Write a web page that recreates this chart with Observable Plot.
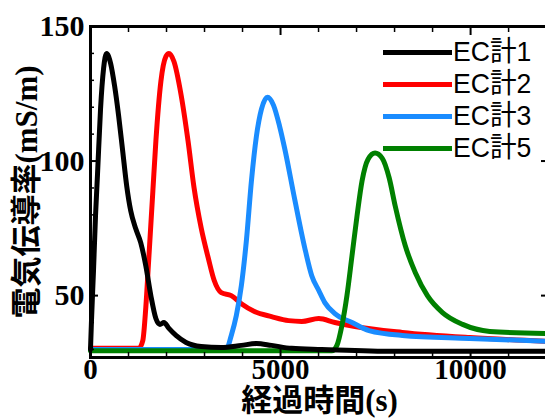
<!DOCTYPE html>
<html><head><meta charset="utf-8">
<script src="https://cdn.jsdelivr.net/npm/d3@7"></script>
<script src="https://cdn.jsdelivr.net/npm/@observablehq/plot@0.6"></script>
<style>
html,body{margin:0;padding:0;background:#fff;overflow:hidden;}
#wrap{position:relative;width:545px;height:419px;overflow:hidden;}
#wrap svg{max-width:none !important;display:block;}
#wrap svg, #wrap svg g, #wrap svg text{font-family:"Liberation Serif","Times New Roman","Noto Sans CJK JP",serif !important;}
#legend{position:absolute;left:383px;top:36px;font-family:"Liberation Sans",Arial,"Noto Sans CJK JP",sans-serif;font-size:28px;color:#000;}
.row{display:flex;align-items:center;height:32px;white-space:nowrap;}
.sw{width:69px;height:5px;flex:none;}
.lab{display:inline-block;margin-left:1px;line-height:32px;transform:scaleX(0.95);transform-origin:left center;}
</style></head><body>
<div id="wrap"><div id="legend"></div></div>
<script>
// Series names and colours
const seriesNames = ["EC計1", "EC計2", "EC計3", "EC計5"];
const seriesColors = ["#000000", "#ff0000", "#1a8cff", "#008000"];

// EC計1 (black)
const t1 = [0, 26, 79, 132, 185, 265, 344, 423, 529, 635, 741, 847, 953, 1058, 1191, 1323, 1455, 1588, 1720, 1826, 1932, 2064, 2249, 2514, 2911, 3440, 3969, 4366, 4763, 5292, 6086, 8000, 10000, 12050];
const v1 = [30, 40.7, 59.3, 79.6, 95.2, 119.6, 134.4, 140, 136.3, 127.8, 116.7, 103.7, 90.7, 81.5, 74.8, 69.6, 61.1, 50, 41.5, 39.3, 40, 37.8, 35.2, 32.6, 31.1, 30.7, 31.5, 32.2, 31.5, 30.4, 30, 29.3, 29.3, 29.3];
// EC計2 (red)
const t2 = [0, 1270, 1376, 1455, 1535, 1641, 1720, 1852, 1985, 2064, 2196, 2381, 2567, 2725, 2911, 3096, 3255, 3440, 3704, 3969, 4313, 4763, 5213, 5557, 6006, 6430, 6959, 8203, 9975, 12050];
const v2 = [30.4, 30.4, 33.3, 45.6, 64.1, 88.9, 107.4, 129.6, 138.9, 140, 137, 124.8, 107.4, 90, 75.2, 64.1, 55.6, 51.1, 50, 47, 44.1, 42.2, 40.7, 40.4, 41.5, 40, 38.5, 36.3, 34.4, 33];
// EC計3 (blue)
const t3 = [0, 3572, 3704, 3837, 3969, 4101, 4234, 4366, 4498, 4657, 4816, 4974, 5107, 5371, 5636, 5821, 6006, 6165, 6430, 6880, 7329, 8203, 9975, 12050];
const v3 = [30, 30, 35.2, 42.6, 53.7, 70.4, 92.6, 109.3, 119.3, 123.7, 120.7, 113, 104.8, 85.9, 67.8, 57.4, 51.9, 47.4, 43.3, 40, 37, 35.2, 34.1, 33];
// EC計5 (green)
const t5 = [0, 6350, 6483, 6615, 6747, 6880, 7012, 7144, 7303, 7488, 7673, 7859, 8017, 8282, 8547, 8864, 9261, 9790, 10505, 12050];
const v5 = [29.5, 29.5, 31.5, 38.9, 50, 64.8, 79.6, 92.6, 100.7, 103, 101.1, 93.7, 83.3, 68.5, 58.5, 50, 43.7, 39.3, 36.7, 35.9];

// Axis ticks and labels
const xTickLabels = [0, 5000, 10000];
const xMinorTicks = [1000, 2000, 3000, 4000, 6000, 7000, 8000, 9000, 11000, 12000];
const yTickLabels = [50, 100, 150];
const yMinorTicks = [30, 40, 60, 70, 80, 90, 110, 120, 130, 140];
const xTitle = "経過時間(s)";
const yTitle = "電気伝導率(mS/m)";

const toRows = (t, v) => t.map((d, i) => ({t: d, v: v[i]}));
const seriesData = [toRows(t1, v1), toRows(t2, v2), toRows(t3, v3), toRows(t5, v5)];
const drawOrder = [1, 2, 3, 0];

const serif = '"Liberation Serif","Times New Roman","Noto Sans CJK JP",serif';
const fmt = d => String(d);

const chart = Plot.plot({
  width: 545, height: 419,
  marginLeft: 90, marginRight: -3, marginTop: 26, marginBottom: 62,
  style: {background: "white", fontFamily: serif, color: "black"},
  x: {domain: [0, 12050]},
  y: {domain: [27, 150]},
  marks: [
    ...drawOrder.map(i => Plot.line(seriesData[i], {x: "t", y: "v", stroke: seriesColors[i], strokeWidth: 5, curve: "monotone-x"})),
    Plot.frame({stroke: "black", strokeWidth: 3}),
    Plot.axisY(yMinorTicks, {anchor: "left", tickSize: -4, text: null, strokeWidth: 1.5, label: null}),
    Plot.axisY(yMinorTicks, {anchor: "right", tickSize: -4, text: null, strokeWidth: 1.5, label: null}),
    Plot.axisY(yTickLabels, {anchor: "left", tickSize: -8, text: null, strokeWidth: 2, label: null}),
    Plot.axisY(yTickLabels, {anchor: "right", tickSize: -8, text: null, strokeWidth: 2, label: null}),
    Plot.axisY(yTickLabels, {anchor: "left", tickSize: 0, tickPadding: 6, fontSize: 30, fontWeight: "bold", fontFamily: serif, tickFormat: fmt, label: null}),
    Plot.axisX(xMinorTicks, {anchor: "bottom", tickSize: -5, text: null, strokeWidth: 1.5, label: null}),
    Plot.axisX(xMinorTicks, {anchor: "top", tickSize: -5, text: null, strokeWidth: 1.5, label: null}),
    Plot.axisX(xTickLabels, {anchor: "bottom", tickSize: -8, text: null, strokeWidth: 2, label: null}),
    Plot.axisX(xTickLabels, {anchor: "top", tickSize: -8, text: null, strokeWidth: 2, label: null}),
    Plot.axisX(xTickLabels, {anchor: "bottom", tickSize: 0, tickPadding: 1, fontSize: 29, fontWeight: "bold", fontFamily: serif, tickFormat: fmt, label: null}),
    Plot.text([xTitle], {text: d => d, frameAnchor: "bottom", dy: 44, lineAnchor: "middle", textAnchor: "middle", fontSize: 31, fontWeight: "bold", fontFamily: serif, fill: "black"}),
    Plot.text([yTitle], {text: d => d, frameAnchor: "left", dx: -63, rotate: -90, lineAnchor: "middle", textAnchor: "middle", fontSize: 31, fontWeight: "bold", fontFamily: serif, fill: "black"})
  ]
});
const wrap = document.getElementById("wrap");
wrap.insertBefore(chart, wrap.firstChild);

const legend = document.getElementById("legend");
seriesNames.forEach((name, i) => {
  const row = document.createElement("div");
  row.className = "row";
  const sw = document.createElement("div");
  sw.className = "sw";
  sw.style.background = seriesColors[i];
  const lab = document.createElement("span");
  lab.className = "lab";
  lab.textContent = name;
  row.appendChild(sw);
  row.appendChild(lab);
  legend.appendChild(row);
});
</script>
</body></html>
